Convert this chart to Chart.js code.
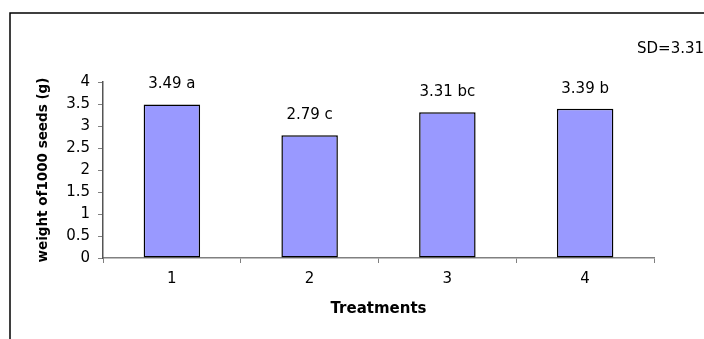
<!DOCTYPE html>
<html>
<head>
<meta charset="utf-8">
<script src="https://cdn.jsdelivr.net/npm/chart.js@4"></script>
<style>
html,body{margin:0;padding:0;background:#fff;}
canvas{display:block;}
</style>
</head>
<body>
<canvas id="c" width="704" height="339"></canvas>
<script>
const categories = ["1", "2", "3", "4"];
const values = [3.49, 2.79, 3.31, 3.39];
const letters = ["a", "c", "bc", "b"];
const sdText = "SD=3.31";
const xTitle = "Treatments";
const yTitle = "weight of1000 seeds (g)";

const FONT = "'DejaVu Sans', 'Liberation Sans', Arial, sans-serif";

const framePlugin = {
  id: 'frame',
  afterDraw(chart) {
    const ctx = chart.ctx;
    ctx.save();
    // outer frame (top and left edges)
    ctx.strokeStyle = '#000';
    ctx.lineWidth = 1.5;
    ctx.beginPath();
    ctx.moveTo(704, 13);
    ctx.lineTo(10, 13);
    ctx.lineTo(10, 339);
    ctx.stroke();
    // value labels
    ctx.fillStyle = '#000';
    ctx.font = "15px " + FONT;
    ctx.textAlign = 'center';
    ctx.textBaseline = 'middle';
    const meta = chart.getDatasetMeta(0);
    meta.data.forEach((bar, i) => {
      ctx.fillText(values[i].toFixed(2) + " " + letters[i], bar.x, bar.y - 20);
    });
    // SD text
    ctx.textAlign = 'left';
    ctx.fillText(sdText, 637, 49);
    ctx.restore();
  }
};

new Chart(document.getElementById('c'), {
  type: 'bar',
  data: {
    labels: categories,
    datasets: [{
      data: values,
      backgroundColor: '#9999FF',
      borderColor: '#000',
      borderWidth: 1.5,
      borderSkipped: false,
      categoryPercentage: 1,
      barPercentage: 0.41
    }]
  },
  options: {
    responsive: false,
    animation: false,
    devicePixelRatio: 1,
    layout: { padding: { top: 82, right: 50, left: 35, bottom: 0 } },
    plugins: { legend: { display: false }, tooltip: { enabled: false } },
    scales: {
      x: {
        grid: { display: true, drawOnChartArea: false, offset: true, tickLength: 5, color: '#808080', lineWidth: 1 },
        border: { color: '#808080', width: 1.5 },
        ticks: { color: '#000', font: { family: FONT, size: 15 }, padding: 7 },
        title: { display: true, text: xTitle, color: '#000', font: { family: FONT, size: 15, weight: 'bold' }, padding: { top: 0, bottom: 21 } },
        afterFit(scale) { scale.height = 81; }
      },
      y: {
        min: 0, max: 4,
        ticks: { stepSize: 0.5, color: '#000', font: { family: FONT, size: 15 }, padding: 8,
                 callback: (v) => String(v) },
        grid: { display: true, drawOnChartArea: false, tickLength: 5, color: '#808080', lineWidth: 1 },
        border: { color: '#555', width: 1.5 },
        title: { display: true, text: yTitle, color: '#000', font: { family: FONT, size: 13.5, weight: 'bold' }, padding: { top: 0, bottom: 0 } },
        afterFit(scale) { scale.width = 68; }
      }
    }
  },
  plugins: [framePlugin]
});
</script>
</body>
</html>
